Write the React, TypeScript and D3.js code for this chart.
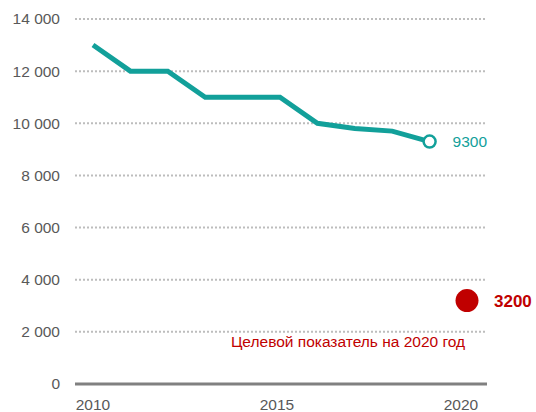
import React from 'react';
import * as d3 from 'd3';

const years = [2010, 2011, 2012, 2013, 2014, 2015, 2016, 2017, 2018, 2019];
const values = [13000, 12000, 12000, 11000, 11000, 11000, 10000, 9800, 9700, 9300];
const targetYear = 2020;
const targetValue = 3200;
const yTicks = [0, 2000, 4000, 6000, 8000, 10000, 12000, 14000];
const xTicks = [2010, 2015, 2020];
const targetLabel = 'Целевой показатель на 2020 год';

const width = 536;
const height = 412;
const teal = '#12a09a';
const red = '#c00000';
const grey = '#595959';

export default function App() {
  const x = d3.scaleLinear().domain([2010, 2020]).range([93, 467]);
  const y = d3.scaleLinear().domain([0, 14000]).range([384, 19]);
  const fmt = (v: number) => d3.format(',')(v).replace(/,/g, ' ');

  const line = d3
    .line<number>()
    .x((d, i) => x(years[i]))
    .y(d => y(d));

  const lastX = x(years[years.length - 1]);
  const lastY = y(values[values.length - 1]);

  return (
    <svg
      width={width}
      height={height}
      style={{ position: 'absolute', left: 0, top: 0, fontFamily: '"Liberation Sans", Arial, sans-serif' }}
    >
      {yTicks.map(t => (
        <g key={t}>
          {t > 0 && (
            <line x1={75} x2={487} y1={y(t)} y2={y(t)} stroke="#bdbdbd" strokeWidth={2} strokeDasharray="2,2" />
          )}
          <text x={60} y={y(t)} dy="0.35em" textAnchor="end" fontSize={15.5} fill={grey}>
            {fmt(t)}
          </text>
        </g>
      ))}
      <line x1={75} x2={487} y1={y(0)} y2={y(0)} stroke="#808080" strokeWidth={3} />
      {xTicks.map(t => (
        <text key={t} x={x(t) - (t - 2010) * 0.6} y={410} textAnchor="middle" fontSize={15.5} fill={grey}>
          {t}
        </text>
      ))}
      <path d={line(values) || ''} fill="none" stroke={teal} strokeWidth={5} strokeLinejoin="miter" />
      <circle cx={lastX} cy={lastY} r={6} fill="#fff" stroke={teal} strokeWidth={2.5} />
      <text x={lastX + 23} y={lastY} dy="0.35em" fontSize={15.5} fill={teal}>
        {values[values.length - 1]}
      </text>
      <circle cx={x(targetYear)} cy={y(targetValue)} r={11.5} fill={red} />
      <text x={x(targetYear) + 27} y={y(targetValue)} dy="0.35em" fontSize={17} fontWeight="bold" fill={red}>
        {targetValue}
      </text>
      <text x={348} y={347} textAnchor="middle" fontSize={15.5} fill={red}>
        {targetLabel}
      </text>
    </svg>
  );
}
